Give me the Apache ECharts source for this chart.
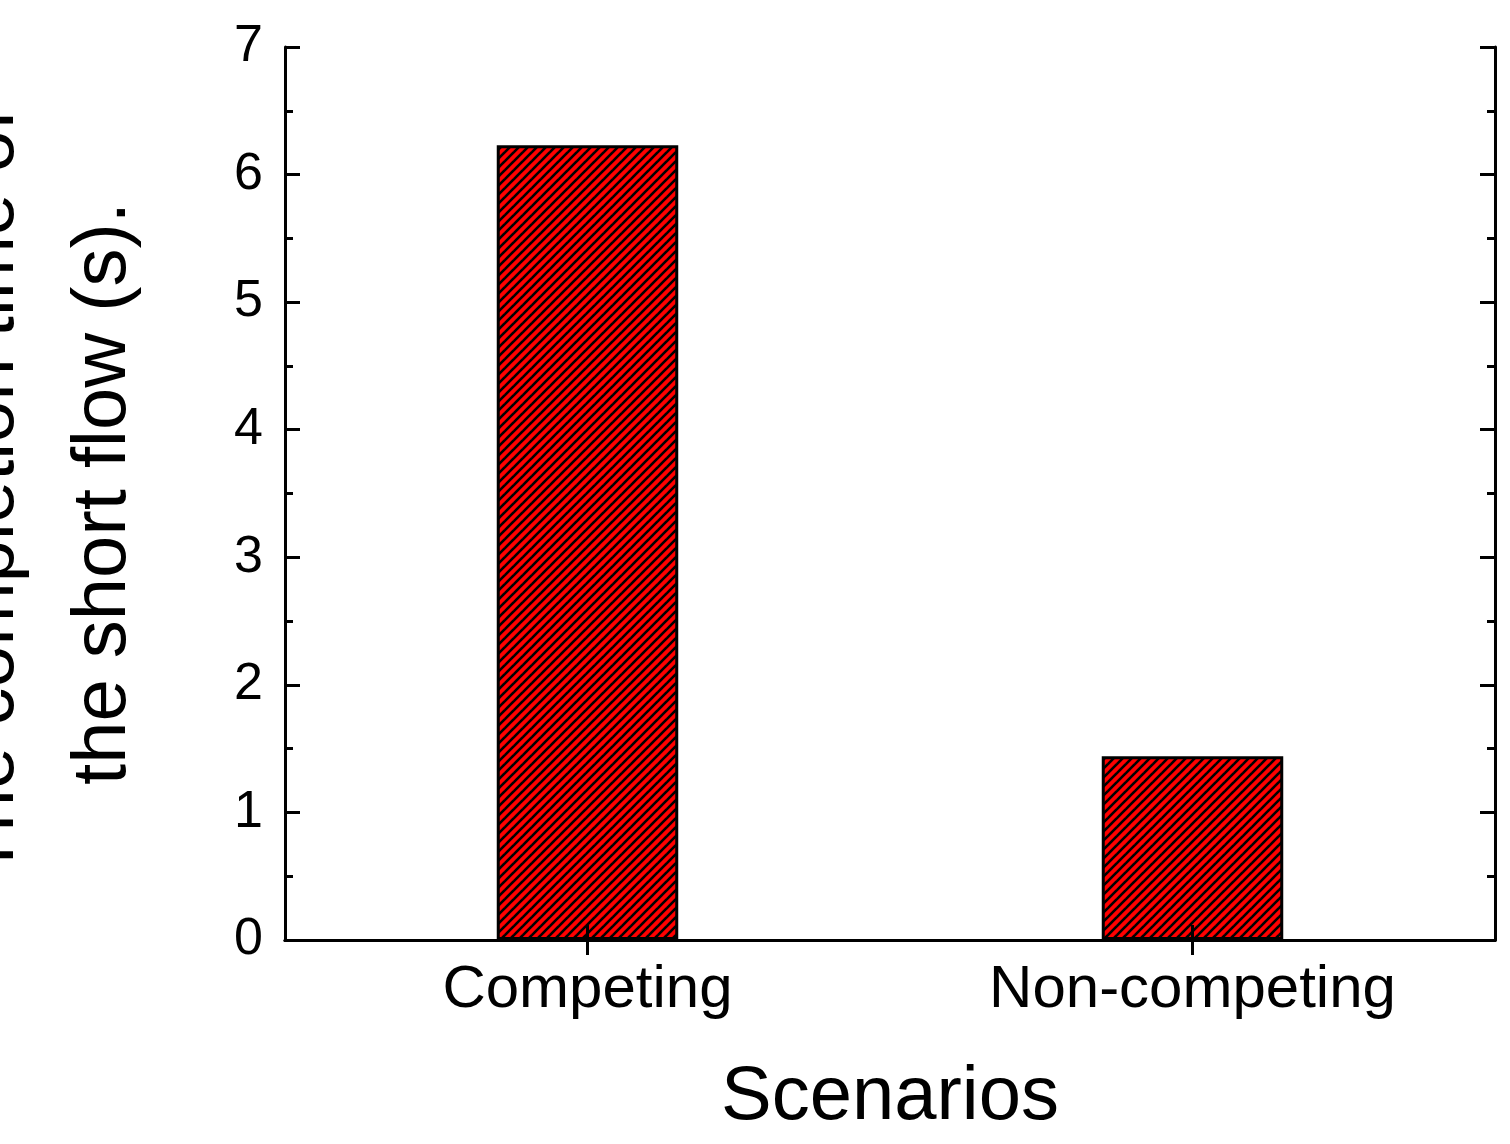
<!DOCTYPE html>
<html>
<head>
<meta charset="utf-8">
<script src="https://cdn.jsdelivr.net/npm/echarts@6/dist/echarts.min.js"></script>
<style>html,body{margin:0;padding:0;background:#fff}#chart{width:1510px;height:1144px}</style>
</head>
<body>
<div id="chart"></div>
<script>
const categories = ['Competing', 'Non-competing'];
const completionTimes = [6.23, 1.44];

// hatch pattern: red with dark diagonal lines
const pat = document.createElement('canvas');
pat.width = 9; pat.height = 9;
const ctx = pat.getContext('2d');
ctx.fillStyle = '#ff0000';
ctx.fillRect(0, 0, 9, 9);
ctx.strokeStyle = '#000';
ctx.lineWidth = 2.6;
for (let k = -1; k <= 1; k++) {
    ctx.beginPath();
    ctx.moveTo(k * 9 - 1, 10);
    ctx.lineTo(k * 9 + 10, -1);
    ctx.stroke();
}

const font = 'Liberation Sans, Arial, sans-serif';
const chart = echarts.init(document.getElementById('chart'));
const axisLine = { show: true, lineStyle: { color: '#000', width: 3 } };
const tick = { show: true, inside: true, length: 15, lineStyle: { width: 3, color: '#000' } };
const minor = { show: true, splitNumber: 2, length: 8, lineStyle: { width: 3, color: '#000' } };

chart.setOption({
    animation: false,
    grid: { left: 285, right: 15, top: 47, bottom: 204, outerBoundsMode: 'none', containLabel: false },
    xAxis: [
        {
            type: 'category', data: categories, z: 10,
            axisLine: axisLine,
            axisTick: Object.assign({ alignWithLabel: true }, tick),
            axisLabel: { fontFamily: font, fontSize: 60, color: '#000', margin: 20 },
            name: 'Scenarios', nameLocation: 'middle', nameGap: 120,
            nameTextStyle: { fontFamily: font, fontSize: 76, color: '#000' }
        },
        {
            type: 'category', data: categories, position: 'top', z: 10,
            axisLine: axisLine,
            axisTick: Object.assign({ alignWithLabel: true }, tick),
            axisLabel: { show: false }
        }
    ],
    yAxis: [
        {
            type: 'value', min: 0, max: 7, interval: 1, z: 10,
            axisLine: axisLine,
            axisTick: tick,
            minorTick: minor,
            splitLine: { show: false },
            axisLabel: { fontFamily: font, fontSize: 52, color: '#000', margin: 22 },
            name: 'The completion time of\nthe short flow (s).', nameLocation: 'middle', nameGap: 125,
            nameRotate: 90,
            nameTextStyle: { fontFamily: font, fontSize: 76, color: '#000', lineHeight: 112 }
        },
        {
            type: 'value', min: 0, max: 7, interval: 1, position: 'right', z: 10,
            axisLine: axisLine,
            axisTick: tick,
            minorTick: minor,
            splitLine: { show: false },
            axisLabel: { show: false }
        }
    ],
    series: [
        {
            type: 'bar', data: completionTimes, barWidth: '30%',
            itemStyle: { color: { image: pat, repeat: 'repeat' }, borderColor: '#000', borderWidth: 3 }
        }
    ]
});
</script>
</body>
</html>
